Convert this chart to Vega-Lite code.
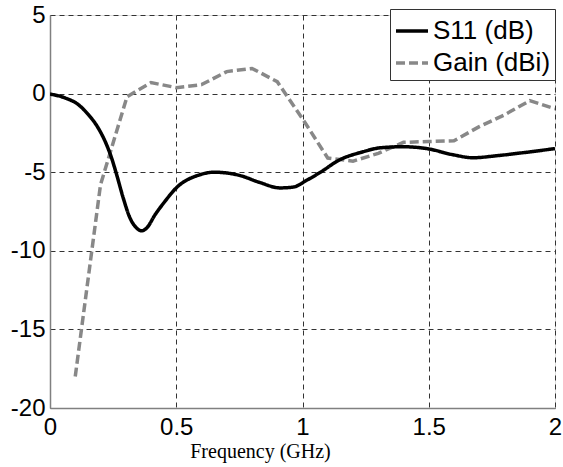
{
  "$schema": "https://vega.github.io/schema/vega-lite/v6.json",
  "width": 505,
  "height": 393,
  "autosize": "none",
  "padding": {"left": 50, "top": 15, "right": 8, "bottom": 59},
  "background": "white",
  "data": {
    "values": [
      {"f": 0, "v": -0.03, "series": "S11 (dB)"},
      {"f": 0.059, "v": -0.27, "series": "S11 (dB)"},
      {"f": 0.112, "v": -0.7, "series": "S11 (dB)"},
      {"f": 0.152, "v": -1.34, "series": "S11 (dB)"},
      {"f": 0.191, "v": -2.19, "series": "S11 (dB)"},
      {"f": 0.224, "v": -3.25, "series": "S11 (dB)"},
      {"f": 0.244, "v": -4.1, "series": "S11 (dB)"},
      {"f": 0.264, "v": -5.16, "series": "S11 (dB)"},
      {"f": 0.29, "v": -6.64, "series": "S11 (dB)"},
      {"f": 0.317, "v": -7.92, "series": "S11 (dB)"},
      {"f": 0.343, "v": -8.55, "series": "S11 (dB)"},
      {"f": 0.363, "v": -8.73, "series": "S11 (dB)"},
      {"f": 0.383, "v": -8.55, "series": "S11 (dB)"},
      {"f": 0.416, "v": -7.71, "series": "S11 (dB)"},
      {"f": 0.455, "v": -6.86, "series": "S11 (dB)"},
      {"f": 0.5, "v": -6.0, "series": "S11 (dB)"},
      {"f": 0.594, "v": -5.16, "series": "S11 (dB)"},
      {"f": 0.65, "v": -5.0, "series": "S11 (dB)"},
      {"f": 0.75, "v": -5.2, "series": "S11 (dB)"},
      {"f": 0.83, "v": -5.65, "series": "S11 (dB)"},
      {"f": 0.911, "v": -6.0, "series": "S11 (dB)"},
      {"f": 0.962, "v": -5.95, "series": "S11 (dB)"},
      {"f": 1.018, "v": -5.5, "series": "S11 (dB)"},
      {"f": 1.081, "v": -4.9, "series": "S11 (dB)"},
      {"f": 1.137, "v": -4.3, "series": "S11 (dB)"},
      {"f": 1.24, "v": -3.7, "series": "S11 (dB)"},
      {"f": 1.307, "v": -3.45, "series": "S11 (dB)"},
      {"f": 1.398, "v": -3.38, "series": "S11 (dB)"},
      {"f": 1.493, "v": -3.5, "series": "S11 (dB)"},
      {"f": 1.596, "v": -3.89, "series": "S11 (dB)"},
      {"f": 1.675, "v": -4.08, "series": "S11 (dB)"},
      {"f": 1.77, "v": -3.95, "series": "S11 (dB)"},
      {"f": 1.873, "v": -3.76, "series": "S11 (dB)"},
      {"f": 2.0, "v": -3.5, "series": "S11 (dB)"},
      {"f": 0.1, "v": -18.0, "series": "Gain (dBi)"},
      {"f": 0.2, "v": -5.8, "series": "Gain (dBi)"},
      {"f": 0.305, "v": -0.2, "series": "Gain (dBi)"},
      {"f": 0.4, "v": 0.7, "series": "Gain (dBi)"},
      {"f": 0.5, "v": 0.38, "series": "Gain (dBi)"},
      {"f": 0.6, "v": 0.57, "series": "Gain (dBi)"},
      {"f": 0.7, "v": 1.4, "series": "Gain (dBi)"},
      {"f": 0.8, "v": 1.6, "series": "Gain (dBi)"},
      {"f": 0.9, "v": 0.76, "series": "Gain (dBi)"},
      {"f": 1.0, "v": -1.6, "series": "Gain (dBi)"},
      {"f": 1.1, "v": -4.1, "series": "Gain (dBi)"},
      {"f": 1.2, "v": -4.3, "series": "Gain (dBi)"},
      {"f": 1.3, "v": -3.8, "series": "Gain (dBi)"},
      {"f": 1.4, "v": -3.1, "series": "Gain (dBi)"},
      {"f": 1.5, "v": -3.05, "series": "Gain (dBi)"},
      {"f": 1.6, "v": -3.0, "series": "Gain (dBi)"},
      {"f": 1.7, "v": -2.1, "series": "Gain (dBi)"},
      {"f": 1.8, "v": -1.35, "series": "Gain (dBi)"},
      {"f": 1.9, "v": -0.45, "series": "Gain (dBi)"},
      {"f": 2.0, "v": -0.97, "series": "Gain (dBi)"}
    ]
  },
  "encoding": {
    "x": {
      "field": "f", "type": "quantitative",
      "scale": {"domain": [0, 2], "nice": false, "zero": false},
      "axis": {
        "values": [0, 0.5, 1, 1.5, 2],
        "title": "Frequency (GHz)",
        "titleFont": "Liberation Serif", "titleFontSize": 20, "titleFontWeight": "normal", "titleColor": "#000",
        "titleX": 210, "titleY": 49, "titleBaseline": "alphabetic", "titleAnchor": "middle", "titleAlign": "center",
        "labelFont": "Liberation Sans", "labelFontSize": 24, "labelColor": "#000",
        "labelPadding": 7, "labelFlush": false, "labelOverlap": false,
        "labelExpr": "'' + datum.value",
        "ticks": false,
        "domainColor": "#808080", "domainWidth": 1.5,
        "grid": true, "gridColor": "#333", "gridDash": [5, 4], "gridWidth": 1
      }
    },
    "y": {
      "field": "v", "type": "quantitative",
      "scale": {"domain": [-20, 5], "nice": false, "zero": false},
      "axis": {
        "values": [-20, -15, -10, -5, 0, 5],
        "title": null,
        "labelFont": "Liberation Sans", "labelFontSize": 24, "labelColor": "#000",
        "labelPadding": 5, "labelFlush": false, "labelOverlap": false, "labelBaseline": "middle",
        "labelExpr": "'' + datum.value",
        "ticks": false,
        "domainColor": "#808080", "domainWidth": 1.5,
        "grid": true, "gridColor": "#333", "gridDash": [5, 4], "gridWidth": 1
      }
    },
    "color": {
      "field": "series", "type": "nominal",
      "scale": {"domain": ["S11 (dB)", "Gain (dBi)"], "range": ["#000000", "#888888"]},
      "legend": {
        "title": null, "orient": "none", "legendX": 340, "legendY": -6,
        "fillColor": "white", "strokeColor": "#333", "padding": 4, "rowPadding": 1,
        "symbolType": "stroke", "symbolSize": 1024, "symbolStrokeWidth": 3.5,
        "labelFont": "Liberation Sans", "labelFontSize": 26, "labelColor": "#000",
        "labelOffset": 3, "labelLimit": 300
      }
    },
    "strokeDash": {
      "field": "series", "type": "nominal",
      "scale": {"domain": ["S11 (dB)", "Gain (dBi)"], "range": [[1, 0], [9, 4]]},
      "legend": null
    }
  },
  "layer": [
    {
      "transform": [{"filter": "datum.series === 'Gain (dBi)'"}],
      "mark": {"type": "line", "strokeWidth": 3.5, "interpolate": "linear", "clip": true}
    },
    {
      "transform": [{"filter": "datum.series === 'S11 (dB)'"}],
      "mark": {"type": "line", "strokeWidth": 3.5, "interpolate": "monotone", "clip": true}
    }
  ]
}
